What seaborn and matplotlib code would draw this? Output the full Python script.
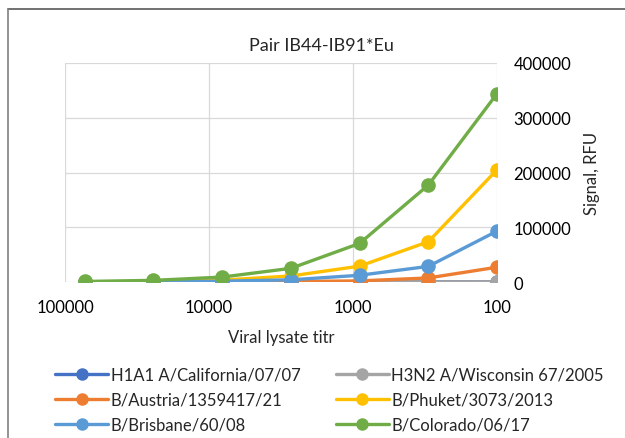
import pandas as pd
import matplotlib.pyplot as plt
import seaborn as sns
from matplotlib.lines import Line2D

# dilution titres (3-fold) and signal per strain
titers = [72900, 24300, 8100, 2700, 900, 300, 100]
h1a1_california = [150, 150, 200, 250, 300, 400, 500]
h3n2_wisconsin = [100, 100, 150, 200, 250, 300, 400]
b_austria = [300, 400, 600, 900, 2000, 7400, 27000]
b_phuket = [500, 900, 3500, 11000, 29000, 73500, 205000]
b_brisbane = [400, 600, 1500, 4000, 12300, 28500, 93000]
b_colorado = [1000, 3000, 9000, 25000, 70500, 177000, 344000]

strains = ['H1A1 A/California/07/07', 'H3N2 A/Wisconsin 67/2005',
           'B/Austria/1359417/21', 'B/Phuket/3073/2013',
           'B/Brisbane/60/08', 'B/Colorado/06/17']
series = [h1a1_california, h3n2_wisconsin, b_austria, b_phuket, b_brisbane, b_colorado]
colors = ['#4472C4', '#A5A5A5', '#ED7D31', '#FFC000', '#5B9BD5', '#70AD47']

df = pd.concat([pd.DataFrame({'titer': titers, 'signal': vals, 'strain': name})
                for name, vals in zip(strains, series)], ignore_index=True)

sns.set_style('white')
plt.rcParams['font.family'] = ['Lato', 'DejaVu Sans']

fig = plt.figure(figsize=(6.25, 4.39), dpi=100)
ax = fig.add_axes([65 / 625, 1 - 283 / 439, (497 - 65) / 625, (283 - 64) / 439])
ax.set_xscale('log')
sns.lineplot(data=df, x='titer', y='signal', hue='strain', hue_order=strains,
             palette=dict(zip(strains, colors)), marker='o', markersize=10.5,
             markeredgewidth=0, linewidth=2.4, legend=False, ax=ax)

ax.set_xlim(100000, 100)
ax.set_ylim(0, 400000)
ax.set_xticks([100000, 10000, 1000, 100])
ax.set_xticklabels(['100000', '10000', '1000', '100'])
ax.minorticks_off()
ax.set_yticks([0, 100000, 200000, 300000, 400000])
ax.set_yticklabels(['0', '100000', '200000', '300000', '400000'])
ax.yaxis.tick_right()
ax.yaxis.set_label_position('right')
ax.tick_params(length=0, labelsize=12, colors='#000000', pad=12)
ax.tick_params(axis='y', pad=12)
ax.grid(True, color='#d9d9d9', linewidth=0.9)
ax.set_axisbelow(True)
for s in ax.spines.values():
    s.set_visible(False)

ax.set_xlabel('Viral lysate titr', fontsize=12, labelpad=10)
ax.set_ylabel('Signal, RFU', fontsize=12, labelpad=9)
fig.text(321 / 625, 1 - 46 / 439, 'Pair IB44-IB91*Eu', fontsize=13,
         ha='center', va='center')

# legend: Excel fills row by row, matplotlib column by column
order = [0, 2, 4, 1, 3, 5]
handles = [Line2D([], [], color=colors[i], marker='o', markersize=9,
                  markeredgewidth=0, linewidth=2.4) for i in order]
fig.legend(handles, [strains[i] for i in order], ncol=2, loc='upper left',
           bbox_to_anchor=(40 / 625, 1 - 353 / 439), frameon=False,
           fontsize=12, handlelength=3.2, handletextpad=0.15,
           columnspacing=2.1, labelspacing=0.52)

# chart border (top and left edges of the Excel chart frame)
fig.add_artist(Line2D([8 / 625, 1], [1 - 10 / 439, 1 - 10 / 439],
                      transform=fig.transFigure, color='#595959', linewidth=1.2))
fig.add_artist(Line2D([8 / 625, 8 / 625], [0, 1 - 10 / 439],
                      transform=fig.transFigure, color='#808080', linewidth=1.2))

fig.savefig('out.png', dpi=100)
